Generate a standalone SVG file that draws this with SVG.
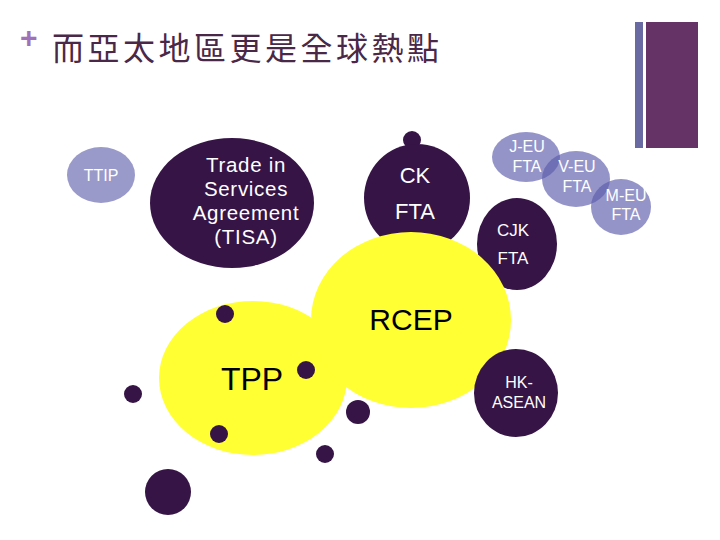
<svg xmlns="http://www.w3.org/2000/svg" width="720" height="540" viewBox="0 0 720 540">
<style>
.t{font-family:"Liberation Sans",Arial,sans-serif;text-anchor:middle}
.w{fill:#ffffff}
.dark{fill:#361446}
.lav{fill:#5a5aac;fill-opacity:0.65}
.yel{fill:#ffff33}
.tisa{font-size:20.5px;letter-spacing:0.7px}
</style>
<rect width="720" height="540" fill="#ffffff"/>
<g id="title">
<text x="20" y="48" font-family="Liberation Sans,sans-serif" font-size="30" font-weight="bold" fill="#a070b8">+</text>
<text x="52" y="60" font-family="'Noto Sans CJK TC','Noto Sans CJK SC',sans-serif" font-size="32" letter-spacing="3.5" fill="#4a2848">而亞太地區更是全球熱點</text>
</g>
<g id="bars">
<rect x="635" y="22" width="8" height="126" fill="#6a6aa2"/>
<rect x="646" y="22" width="52" height="126" fill="#663366"/>
</g>
<g id="connectors"></g>
<g id="ttip">
<ellipse cx="101" cy="175" rx="34" ry="28" fill="#9a9aca"/>
<text class="t w" x="101" y="181" font-size="16">TTIP</text>
</g>
<g id="tisa">
<ellipse class="dark" cx="232" cy="203" rx="82" ry="65"/>
<text class="t w tisa" x="246" y="172">Trade in</text>
<text class="t w tisa" x="246" y="196">Services</text>
<text class="t w tisa" x="246" y="220">Agreement</text>
<text class="t w tisa" x="246" y="244">(TISA)</text>
</g>
<g id="ck-fta">
<circle class="dark" cx="412" cy="140" r="9"/>
<ellipse class="dark" cx="417" cy="198" rx="53" ry="54"/>
<text class="t w" x="415" y="183" font-size="22">CK</text>
<text class="t w" x="415" y="219" font-size="22">FTA</text>
</g>
<g id="cjk-fta">
<ellipse class="dark" cx="517" cy="244" rx="40" ry="46"/>
<text class="t w" x="513" y="236" font-size="17">CJK</text>
<text class="t w" x="513" y="264" font-size="17">FTA</text>
</g>
<g id="tpp">
<ellipse class="yel" cx="253" cy="378" rx="94" ry="77"/>
<text class="t" x="252" y="390" font-size="32" fill="#000000">TPP</text>
</g>
<g id="rcep">
<ellipse class="yel" cx="411" cy="320" rx="100" ry="88"/>
<text class="t" x="411" y="330" font-size="30" fill="#000000">RCEP</text>
</g>
<g id="hk-asean">
<ellipse class="dark" cx="516" cy="393" rx="42" ry="44"/>
<text class="t w" x="519" y="388" font-size="16">HK-</text>
<text class="t w" x="519" y="408" font-size="16">ASEAN</text>
</g>
<g id="eu-ftas">
<g id="j-eu">
<ellipse class="lav" cx="526" cy="157" rx="34" ry="25"/>
<text class="t w" x="527" y="152" font-size="16">J-EU</text>
<text class="t w" x="527" y="172" font-size="16">FTA</text>
</g>
<g id="v-eu">
<ellipse class="lav" cx="576" cy="179" rx="34" ry="28"/>
<text class="t w" x="577" y="172" font-size="16">V-EU</text>
<text class="t w" x="577" y="192" font-size="16">FTA</text>
</g>
<g id="m-eu">
<ellipse class="lav" cx="621" cy="207" rx="30" ry="28"/>
<text class="t w" x="626" y="201" font-size="16">M-EU</text>
<text class="t w" x="626" y="220" font-size="16">FTA</text>
</g>
</g>
<g id="dots" class="dark">
<circle cx="225" cy="314" r="9"/>
<circle cx="306" cy="370" r="9"/>
<circle cx="133" cy="394" r="9"/>
<circle cx="358" cy="412" r="12"/>
<circle cx="219" cy="434" r="9"/>
<circle cx="325" cy="454" r="9"/>
<circle cx="168" cy="492" r="23"/>
</g>
</svg>
